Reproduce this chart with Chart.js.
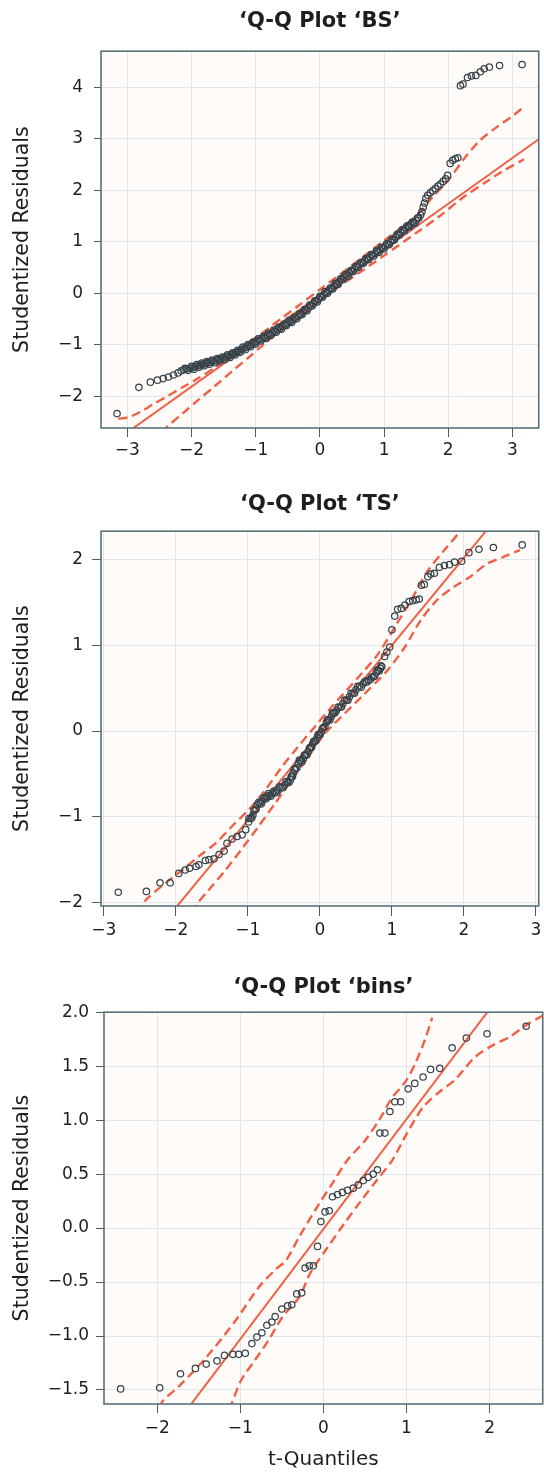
<!DOCTYPE html>
<html>
<head>
<meta charset="utf-8">
<script src="https://cdn.jsdelivr.net/npm/chart.js@4.4.1/dist/chart.umd.min.js"></script>
<style>
  body { margin: 0; background: #fff; overflow: hidden; }
  .panel { position: absolute; left: 0; }
</style>
</head>
<body>
<div class="panel" style="top:0"><canvas id="bs" width="544" height="470"></canvas></div>
<div class="panel" style="top:470px"><canvas id="ts" width="544" height="490"></canvas></div>
<div class="panel" style="top:960px"><canvas id="bins" width="548" height="512"></canvas></div>
<script>
// ---- 'BS' ----
const bsT = [-3.16, -2.82, -2.64, -2.53, -2.44, -2.36, -2.28, -2.21, -2.16,
    -2.12, -2.07, -2.02, -1.98,
    -1.94, -1.90, -1.86, -1.82, -1.78, -1.74, -1.70, -1.66, -1.62, -1.58,
    -1.54, -1.50, -1.46, -1.42, -1.38, -1.34, -1.30, -1.26, -1.22, -1.18,
    -1.14, -1.10, -1.06, -1.02, -0.98, -0.94, -0.90, -0.86, -0.82, -0.78,
    -0.74, -0.70, -0.66, -0.62, -0.58, -0.54, -0.50, -0.46, -0.42, -0.38,
    -0.34, -0.30, -0.26, -0.22, -0.18, -0.14, -0.10, -0.06, -0.02, 0.02,
    0.06, 0.10, 0.14, 0.18, 0.22, 0.26, 0.30, 0.34, 0.38, 0.42,
    0.46, 0.50, 0.54, 0.58, 0.62, 0.66, 0.70, 0.74, 0.78, 0.82,
    0.86, 0.90, 0.94, 0.98, 1.02, 1.06, 1.10, 1.14, 1.18, 1.22,
    1.26, 1.30, 1.34, 1.38, 1.42, 1.46, 1.50, 1.54,
    1.57, 1.59, 1.61, 1.63, 1.65,
    1.68, 1.72, 1.76, 1.80, 1.84, 1.88, 1.92, 1.96,
    1.99, 2.03, 2.07, 2.11, 2.15,
    2.19, 2.23, 2.30, 2.36, 2.43, 2.50, 2.56, 2.64, 2.80, 3.15];
const bsR = [-2.34, -1.83, -1.73, -1.69, -1.66, -1.63, -1.59, -1.55, -1.51,
    -1.49, -1.47, -1.46, -1.45,
    -1.43, -1.41, -1.40, -1.38, -1.37, -1.35, -1.34, -1.32, -1.31, -1.29,
    -1.28, -1.26, -1.24, -1.22, -1.20, -1.18, -1.15, -1.13, -1.10, -1.07,
    -1.05, -1.02, -0.99, -0.97, -0.94, -0.91, -0.88, -0.86, -0.83, -0.80,
    -0.77, -0.74, -0.71, -0.68, -0.65, -0.62, -0.58, -0.55, -0.52, -0.48,
    -0.45, -0.41, -0.37, -0.33, -0.29, -0.24, -0.20, -0.16, -0.12, -0.07,
    -0.03, 0.01, 0.05, 0.09, 0.14, 0.18, 0.22, 0.27, 0.31, 0.35,
    0.39, 0.43, 0.47, 0.51, 0.55, 0.59, 0.63, 0.66, 0.70, 0.74,
    0.77, 0.81, 0.84, 0.88, 0.91, 0.95, 0.99, 1.03, 1.09, 1.14,
    1.18, 1.22, 1.27, 1.30, 1.33, 1.37, 1.41, 1.46,
    1.52, 1.58, 1.67, 1.75, 1.84,
    1.90, 1.95, 1.99, 2.03, 2.08, 2.12, 2.17, 2.22,
    2.29, 2.52, 2.58, 2.61, 2.63,
    4.03, 4.06, 4.19, 4.22, 4.23, 4.30, 4.36, 4.39, 4.42, 4.44];
// second row of points inside the dense band
const bsT2 = [-2.10, -2.05, -2.00,
    -1.96, -1.92, -1.88, -1.84, -1.80, -1.76, -1.72, -1.68, -1.64, -1.60,
    -1.56, -1.52, -1.48, -1.44, -1.40, -1.36, -1.32, -1.28, -1.24, -1.20,
    -1.16, -1.12, -1.08, -1.04, -1.00, -0.96, -0.92, -0.88, -0.84, -0.80,
    -0.76, -0.72, -0.68, -0.64, -0.60, -0.56, -0.52, -0.48, -0.44, -0.40,
    -0.36, -0.32, -0.28, -0.24, -0.20, -0.16, -0.12, -0.08, -0.04, 0.00,
    0.04, 0.08, 0.12, 0.16, 0.20, 0.24, 0.28, 0.32, 0.36, 0.40,
    0.44, 0.48, 0.52, 0.56, 0.60, 0.64, 0.68, 0.72, 0.76, 0.80,
    0.84, 0.88, 0.92, 0.96, 1.00, 1.04, 1.08, 1.12, 1.16, 1.20,
    1.24, 1.28, 1.32, 1.36, 1.40, 1.44, 1.48, 1.52];
const bsR2 = [-1.46, -1.50, -1.42,
    -1.48, -1.39, -1.44, -1.36, -1.41, -1.33, -1.38, -1.30, -1.35, -1.27,
    -1.32, -1.24, -1.29, -1.20, -1.25, -1.16, -1.20, -1.11, -1.15, -1.05,
    -1.10, -1.00, -1.04, -0.95, -0.99, -0.89, -0.93, -0.84, -0.88, -0.78,
    -0.82, -0.72, -0.76, -0.66, -0.70, -0.60, -0.63, -0.53, -0.57, -0.47,
    -0.50, -0.40, -0.42, -0.32, -0.34, -0.23, -0.25, -0.15, -0.17, -0.06,
    -0.08, 0.03, 0.00, 0.10, 0.08, 0.19, 0.17, 0.28, 0.26, 0.36,
    0.33, 0.44, 0.42, 0.52, 0.50, 0.60, 0.58, 0.67, 0.65, 0.75,
    0.72, 0.82, 0.79, 0.89, 0.86, 0.96, 0.94, 1.04, 1.03, 1.14,
    1.13, 1.23, 1.21, 1.31, 1.29, 1.38, 1.36, 1.46];
const bsLineT = [-3.41, 3.41];
const bsLineR = [-3.07, 2.99];
const bsUpT = [-3.14, -2.98, -2.80, -2.60, -2.40, -2.14, -1.89, -1.63, -1.37, -1.11, -0.85, -0.60,
    -0.34, 0.00, 0.50, 1.00, 1.50, 1.75, 2.00, 2.24, 2.49, 2.75, 3.00, 3.18];
const bsUpR = [-2.44, -2.41, -2.31, -2.16, -2.02, -1.83, -1.65, -1.44, -1.20, -0.96, -0.73, -0.49,
    -0.25, 0.07, 0.54, 1.02, 1.50, 1.86, 2.19, 2.60, 2.96, 3.22, 3.44, 3.62];
const bsLoT = [-2.45, -2.38, -2.14, -1.89, -1.63, -1.37, -1.11, -0.85, -0.60, -0.34,
    0.00, 0.50, 1.00, 1.50, 1.87, 2.20, 2.60, 2.85, 3.18];
const bsLoR = [-2.72, -2.60, -2.34, -2.07, -1.80, -1.52, -1.25, -0.97, -0.70, -0.44,
    -0.13, 0.30, 0.73, 1.17, 1.50, 1.83, 2.17, 2.37, 2.60];
const bsXTicks = [-3, -2, -1, 0, 1, 2, 3];
const bsYTicks = [-2, -1, 0, 1, 2, 3, 4];

// ---- 'TS' ----
const tsT = [-2.80, -2.41, -2.22, -2.08, -1.96, -1.87, -1.81, -1.72, -1.68, -1.59,
    -1.54, -1.47, -1.40, -1.33, -1.29, -1.22, -1.15, -1.08, -1.03, -0.99,
    -0.96, -0.93, -0.90, -0.87, -0.83, -0.80, -0.76, -0.73, -0.70, -0.66,
    -0.62, -0.58, -0.54, -0.49, -0.45, -0.41, -0.39, -0.37, -0.34, -0.30,
    -0.27, -0.23, -0.20, -0.16, -0.13, -0.10, -0.07, -0.04, -0.01, 0.02,
    0.05, 0.09, 0.12, 0.16, 0.19, 0.23, 0.28, 0.32, 0.37, 0.41,
    0.46, 0.50, 0.55, 0.60, 0.65, 0.70, 0.74, 0.78, 0.81, 0.84,
    0.86, 0.90, 0.93, 0.97, 1.00, 1.04, 1.08, 1.13, 1.18, 1.24,
    1.29, 1.34, 1.38, 1.41, 1.45, 1.50, 1.54, 1.59, 1.66, 1.73,
    1.80, 1.87, 1.97, 2.07, 2.21, 2.41, 2.81];
const tsR = [-1.88, -1.87, -1.77, -1.77, -1.66, -1.62, -1.60, -1.58, -1.56, -1.51,
    -1.50, -1.49, -1.44, -1.40, -1.31, -1.26, -1.23, -1.21, -1.15, -1.06,
    -1.02, -0.98, -0.92, -0.86, -0.84, -0.82, -0.78, -0.76, -0.75, -0.73,
    -0.71, -0.69, -0.66, -0.63, -0.60, -0.57, -0.53, -0.49, -0.44, -0.38,
    -0.35, -0.32, -0.28, -0.24, -0.19, -0.15, -0.12, -0.08, -0.04, -0.01,
    0.04, 0.10, 0.13, 0.17, 0.21, 0.24, 0.28, 0.32, 0.36, 0.40,
    0.44, 0.48, 0.52, 0.55, 0.57, 0.60, 0.63, 0.68, 0.71, 0.73,
    0.75, 0.87, 0.92, 0.98, 1.18, 1.34, 1.42, 1.43, 1.47, 1.51,
    1.52, 1.53, 1.54, 1.70, 1.71, 1.80, 1.83, 1.84, 1.91, 1.93,
    1.94, 1.97, 1.98, 2.08, 2.12, 2.14, 2.17];
// extra points in the dense middle of 'TS'
const tsT2 = [-0.985, -0.945, -0.915, -0.885, -0.85, -0.815, -0.78, -0.745, -0.715, -0.68,
    -0.64, -0.60, -0.56, -0.515, -0.47, -0.43, -0.40, -0.38, -0.355, -0.32,
    -0.285, -0.25, -0.215, -0.18, -0.145, -0.115, -0.085, -0.055, -0.025, 0.005,
    0.035, 0.07, 0.105, 0.14, 0.175, 0.21, 0.255, 0.30, 0.345, 0.39,
    0.435, 0.48, 0.525, 0.575, 0.625, 0.675, 0.72, 0.76, 0.795, 0.825, 0.85];
const tsR2 = [-1.02, -1.01, -0.93, -0.91, -0.83, -0.85, -0.78, -0.79, -0.73, -0.76,
    -0.70, -0.72, -0.65, -0.66, -0.59, -0.60, -0.53, -0.53, -0.45, -0.43,
    -0.34, -0.36, -0.28, -0.28, -0.20, -0.19, -0.12, -0.11, -0.04, -0.04,
    0.03, 0.05, 0.13, 0.13, 0.21, 0.21, 0.28, 0.28, 0.36, 0.36,
    0.44, 0.44, 0.52, 0.51, 0.58, 0.59, 0.63, 0.64, 0.71, 0.70, 0.76];
const tsLineT = [-3.04, 3.04];
const tsLineR = [-3.12, 3.08];
const tsUpT = [-2.55, -2.50, -2.37, -2.14, -1.91, -1.68, -1.45, -1.22, -0.99, -0.76, -0.53,
    -0.30, -0.07, 0.12, 0.58, 0.81, 1.04, 1.27, 1.50, 1.73, 1.96, 2.05];
const tsUpR = [-2.12, -2.05, -1.93, -1.77, -1.62, -1.46, -1.31, -1.11, -0.92, -0.69, -0.42,
    -0.18, 0.05, 0.24, 0.67, 0.90, 1.21, 1.53, 1.87, 2.11, 2.34, 2.45];
const tsLoT = [-1.78, -1.74, -1.54, -1.31, -1.08, -0.85, -0.62, -0.39, -0.16, 0.07,
    0.58, 0.94, 1.18, 1.40, 1.63, 1.86, 2.09, 2.32, 2.55, 2.78];
const tsLoR = [-2.12, -2.05, -1.85, -1.62, -1.37, -1.11, -0.84, -0.57, -0.30, -0.03,
    0.40, 0.71, 0.98, 1.29, 1.53, 1.68, 1.80, 1.95, 2.03, 2.11];
const tsXTicks = [-3, -2, -1, 0, 1, 2, 3];
const tsYTicks = [-2, -1, 0, 1, 2];

// ---- 'bins' ----
const binsT = [-2.44, -1.97, -1.72, -1.54, -1.41, -1.28, -1.19, -1.09, -1.02, -0.94,
    -0.86, -0.80, -0.74, -0.68, -0.62, -0.58, -0.50, -0.43, -0.38, -0.32,
    -0.26, -0.22, -0.17, -0.12, -0.07, -0.03, 0.02, 0.07, 0.11, 0.17,
    0.23, 0.29, 0.36, 0.42, 0.48, 0.54, 0.60, 0.65, 0.68, 0.74,
    0.80, 0.86, 0.93, 1.02, 1.10, 1.20, 1.29, 1.40, 1.55, 1.72,
    1.97, 2.44];
const binsR = [-1.49, -1.48, -1.35, -1.30, -1.26, -1.23, -1.18, -1.17, -1.17, -1.16,
    -1.07, -1.01, -0.97, -0.90, -0.87, -0.82, -0.75, -0.72, -0.71, -0.61,
    -0.60, -0.37, -0.35, -0.35, -0.17, 0.06, 0.15, 0.16, 0.29, 0.31,
    0.33, 0.35, 0.37, 0.40, 0.44, 0.47, 0.50, 0.54, 0.88, 0.88,
    1.08, 1.17, 1.17, 1.29, 1.34, 1.40, 1.47, 1.48, 1.67, 1.76,
    1.80, 1.87];
const binsLineT = [-2.64, 2.64];
const binsLineR = [-2.70, 2.68];
const binsUpT = [-1.98, -1.92, -1.73, -1.40, -1.05, -0.78, -0.57, -0.45, -0.29, -0.08,
    0.13, 0.29, 0.50, 0.67, 0.83, 1.00, 1.12, 1.22, 1.31];
const binsUpR = [-1.66, -1.59, -1.46, -1.19, -0.85, -0.55, -0.38, -0.30, -0.08, 0.19,
    0.44, 0.63, 0.81, 1.00, 1.21, 1.37, 1.55, 1.74, 1.95];
const binsLoT = [-1.13, -1.11, -0.99, -0.82, -0.66, -0.49, -0.29, -0.16, 0.05, 0.25,
    0.46, 0.67, 0.83, 1.00, 1.20, 1.41, 1.58, 1.82, 2.03, 2.24, 2.44, 2.64];
const binsLoR = [-1.68, -1.64, -1.41, -1.22, -1.04, -0.82, -0.64, -0.42, -0.18, 0.04,
    0.26, 0.47, 0.63, 0.87, 1.12, 1.27, 1.37, 1.58, 1.69, 1.77, 1.88, 1.97];
const binsXTicks = [-2, -1, 0, 1, 2];
const binsYTicks = [-1.5, -1.0, -0.5, 0.0, 0.5, 1.0, 1.5, 2.0];

const FONT = "'DejaVu Sans', 'Liberation Sans', sans-serif";
const RED = '#ee6147';
const DOT = '#36434a';

const withMinus = s => s.replace('-', '\u2212');

const framePlugin = {
    id: 'frame',
    beforeDraw(chart) {
        const { ctx, chartArea: a } = chart;
        ctx.save();
        ctx.fillStyle = '#fffbf9';
        ctx.fillRect(a.left, a.top, a.width, a.height);
        ctx.restore();
    },
    afterDraw(chart) {
        const { ctx, chartArea: a } = chart;
        ctx.save();
        ctx.strokeStyle = '#5a717a';
        ctx.lineWidth = 1.6;
        ctx.strokeRect(a.left, a.top, a.width, a.height);
        ctx.restore();
    }
};

function qqPlot(id, o) {
    const xy = (xs, ys) => xs.map((x, i) => ({ x, y: ys[i] }));
    const band = (xs, ys) => ({
        data: xy(xs, ys), showLine: true, borderColor: RED, borderWidth: 2.4,
        borderDash: [9, 5], pointRadius: 0, tension: 0.3, order: 2
    });
    const tickFont = { family: FONT, size: 17 };

    new Chart(document.getElementById(id), {
        type: 'scatter',
        data: {
            datasets: [
                {
                    data: xy(o.t, o.r), pointRadius: 3.2, borderWidth: 1.25,
                    borderColor: DOT, backgroundColor: 'transparent', order: 0
                },
                {
                    data: xy(o.lineT, o.lineR), showLine: true, borderColor: RED,
                    borderWidth: 2, pointRadius: 0, order: 1
                },
                band(o.upT, o.upR),
                band(o.loT, o.loR)
            ]
        },
        options: {
            responsive: false,
            devicePixelRatio: 1,
            animation: false,
            events: [],
            layout: { padding: { left: 0, right: o.padRight, top: 0, bottom: 0 } },
            plugins: {
                legend: { display: false },
                tooltip: { enabled: false },
                title: {
                    display: true,
                    fullSize: false,
                    text: o.title,
                    color: '#1e1e1e',
                    font: { family: FONT, size: 21, weight: 'bold' },
                    padding: { top: o.titleTop, bottom: o.titleBottom }
                }
            },
            scales: {
                x: {
                    type: 'linear',
                    min: o.xMin, max: o.xMax,
                    afterBuildTicks: s => { s.ticks = o.xTicks.map(v => ({ value: v })); },
                    afterFit: s => { s.height = o.xHeight; s.paddingLeft = 0; s.paddingRight = 0; },
                    ticks: {
                        autoSkip: false, maxRotation: 0, color: '#1e1e1e', font: tickFont,
                        padding: o.xPad, callback: v => withMinus(String(v))
                    },
                    grid: { color: '#dce7ee', tickColor: '#4d5d64', tickLength: o.xTick, lineWidth: 1 },
                    border: { display: false },
                    title: {
                        display: !!o.xTitle, text: o.xTitle, color: '#1e1e1e',
                        font: { family: FONT, size: 20 }, padding: { top: 0, bottom: 0 }
                    }
                },
                y: {
                    type: 'linear',
                    min: o.yMin, max: o.yMax,
                    afterBuildTicks: s => { s.ticks = o.yTicks.map(v => ({ value: v })); },
                    afterFit: s => { s.width = o.yWidth; s.paddingTop = 0; s.paddingBottom = 0; },
                    ticks: {
                        autoSkip: false, color: '#1e1e1e', font: tickFont, padding: o.yPad,
                        callback: v => withMinus(o.decimals ? v.toFixed(1) : String(v))
                    },
                    grid: { color: '#dce7ee', tickColor: '#4d5d64', tickLength: o.yTick, lineWidth: 1 },
                    border: { display: false },
                    title: {
                        display: true, text: 'Studentized Residuals', color: '#1e1e1e',
                        font: { family: FONT, size: 20.5 }, padding: { top: 10.5, bottom: 0 }
                    }
                }
            }
        },
        plugins: [framePlugin]
    });
}

qqPlot('bs', {
    title: '\u2018Q-Q Plot \u2018BS\u2019',
    t: bsT.concat(bsT2), r: bsR.concat(bsR2), lineT: bsLineT, lineR: bsLineR,
    upT: bsUpT, upR: bsUpR, loT: bsLoT, loR: bsLoR,
    xTicks: bsXTicks, yTicks: bsYTicks,
    xMin: -3.41, xMax: 3.41, yMin: -2.62, yMax: 4.70,
    padRight: 1, titleTop: 9, titleBottom: 17,
    yWidth: 101, xHeight: 42, xTick: 9, xPad: 3, yTick: 7, yPad: 11
});

qqPlot('ts', {
    title: '\u2018Q-Q Plot \u2018TS\u2019',
    t: tsT.concat(tsT2), r: tsR.concat(tsR2), lineT: tsLineT, lineR: tsLineR,
    upT: tsUpT, upR: tsUpR, loT: tsLoT, loR: tsLoR,
    xTicks: tsXTicks, yTicks: tsYTicks,
    xMin: -3.04, xMax: 3.04, yMin: -2.04, yMax: 2.33,
    padRight: 3, titleTop: 22, titleBottom: 14,
    yWidth: 101, xHeight: 54, xTick: 10, xPad: 4, yTick: 9, yPad: 9
});

qqPlot('bins', {
    title: '\u2018Q-Q Plot \u2018bins\u2019',
    t: binsT, r: binsR, lineT: binsLineT, lineR: binsLineR,
    upT: binsUpT, upR: binsUpR, loT: binsLoT, loR: binsLoR,
    xTicks: binsXTicks, yTicks: binsYTicks, decimals: true,
    xMin: -2.64, xMax: 2.64, yMin: -1.63, yMax: 2.0,
    padRight: 0, titleTop: 15, titleBottom: 12,
    yWidth: 104, xHeight: 68, xTick: 9, xPad: 5, yTick: 8, yPad: 7,
    xTitle: 't-Quantiles'
});
</script>
</body>
</html>
